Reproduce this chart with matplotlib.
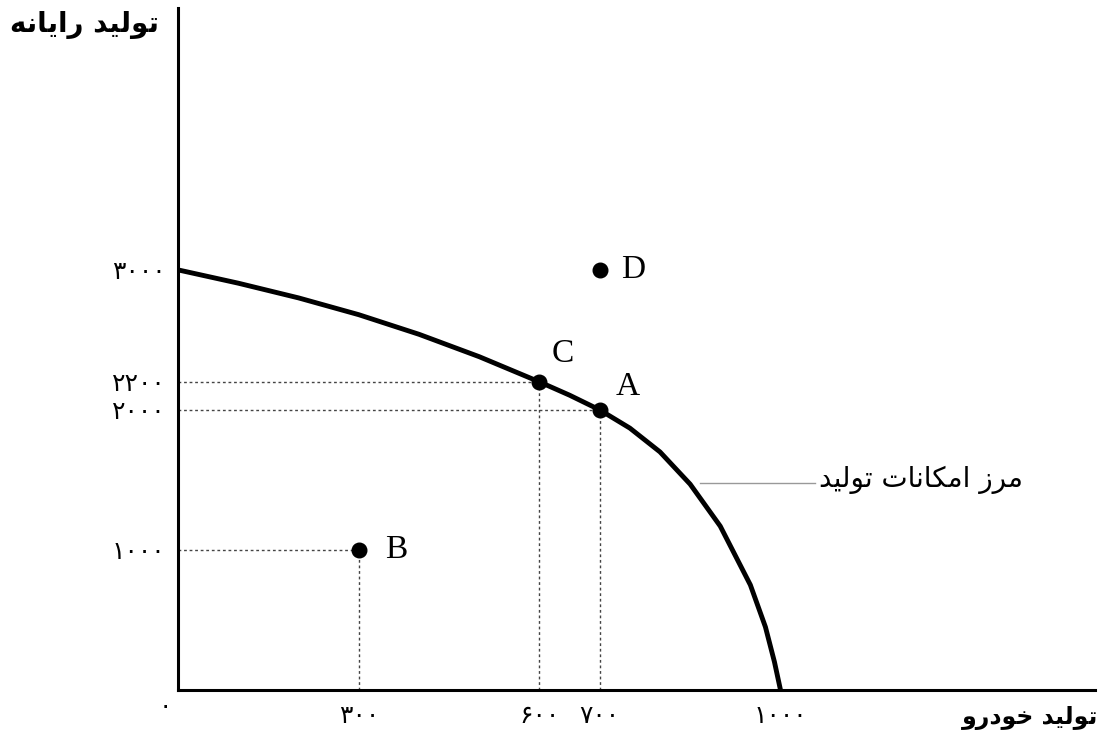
import matplotlib
matplotlib.use('Agg')
import matplotlib.pyplot as plt

# production possibility frontier (cars vs computers)
curve_x = [0, 100, 200, 300, 400, 500, 600, 650, 700, 750, 800, 850, 900,
           950, 975, 990, 1000]
curve_y = [3000, 2905, 2800, 2680, 2540, 2380, 2200, 2105, 2000, 1870, 1700,
           1470, 1170, 750, 450, 200, 0]

point_names = ['A', 'B', 'C', 'D']
point_x = [700, 300, 600, 700]
point_y = [2000, 1000, 2200, 3000]

xtick_vals = [300, 600, 700, 1000]
xtick_labels = ['۳۰۰', '۶۰۰', '۷۰۰', '۱۰۰۰']
ytick_vals = [1000, 2000, 2200, 3000]
ytick_labels = ['۱۰۰۰', '۲۰۰۰', '۲۲۰۰', '۳۰۰۰']

ylabel_txt = 'تولید رایانه'
xlabel_txt = 'تولید خودرو'
curve_txt = 'مرز امکانات تولید'


# matplotlib has no arabic shaping, so pick presentation forms by hand
# letter: (isolated, final, initial, medial)
forms = {
    'ت': ('\uFE95', '\uFE96', '\uFE97', '\uFE98'),
    'و': ('\uFEED', '\uFEEE', None, None),
    'ل': ('\uFEDD', '\uFEDE', '\uFEDF', '\uFEE0'),
    'ی': ('\uFBFC', '\uFBFD', '\uFEF3', '\uFEF4'),
    'د': ('\uFEA9', '\uFEAA', None, None),
    'ر': ('\uFEAD', '\uFEAE', None, None),
    'ز': ('\uFEAF', '\uFEB0', None, None),
    'ا': ('\uFE8D', '\uFE8E', None, None),
    'ن': ('\uFEE5', '\uFEE6', '\uFEE7', '\uFEE8'),
    'ه': ('\uFEE9', '\uFEEA', '\uFEEB', '\uFEEC'),
    'خ': ('\uFEA5', '\uFEA6', '\uFEA7', '\uFEA8'),
    'م': ('\uFEE1', '\uFEE2', '\uFEE3', '\uFEE4'),
    'ک': ('\uFB8E', '\uFB8F', '\uFB90', '\uFB91'),
}


def shape(s):
    out = []
    for i, ch in enumerate(s):
        if ch not in forms:
            out.append(ch)
            continue
        prev = s[i - 1] if i > 0 else ' '
        nxt = s[i + 1] if i < len(s) - 1 else ' '
        join_prev = prev in forms and forms[prev][2] is not None
        join_next = nxt in forms and forms[ch][2] is not None
        iso, fin, ini, med = forms[ch]
        if join_prev and join_next:
            out.append(med)
        elif join_next:
            out.append(ini)
        elif join_prev:
            out.append(fin)
        else:
            out.append(iso)
    return ''.join(out)[::-1]


fig = plt.figure(figsize=(11.1, 7.42), dpi=100)
ax = fig.add_axes([178 / 1110, 52 / 742, 917 / 1110, 682 / 742])

ax.set_xlim(0, 1522)
ax.set_ylim(0, 4870)

for s in ['top', 'right']:
    ax.spines[s].set_visible(False)
ax.spines['left'].set_linewidth(2.2)
ax.spines['bottom'].set_linewidth(2.2)

# dotted guides to the axes
for name, x, y in zip(point_names, point_x, point_y):
    if name == 'D':
        continue
    ax.plot([0, x], [y, y], color='#444444', lw=1, ls=(0, (2, 2)))
    ax.plot([x, x], [0, y], color='#444444', lw=1, ls=(0, (2, 2)))

ax.plot(curve_x, curve_y, color='black', lw=3.5, solid_capstyle='butt',
        solid_joinstyle='round', zorder=3)
ax.plot(point_x, point_y, 'o', color='black', ms=10.5, zorder=4)

label_off = {'A': (20, 17), 'B': (27, 0), 'C': (17, 20), 'D': (24, 0)}
for name, x, y in zip(point_names, point_x, point_y):
    dx, dy = label_off[name]
    ax.annotate(name, (x, y), xytext=(dx, dy), textcoords='offset points',
                fontsize=24, family='Liberation Serif', va='center', ha='center')

arabic = ['DejaVu Sans']
ax.set_xticks(xtick_vals)
ax.set_xticklabels(xtick_labels, family=arabic, fontsize=18)
ax.set_yticks(ytick_vals)
ax.set_yticklabels(ytick_labels, family=arabic, fontsize=18)
ax.tick_params(axis='both', length=0)
ax.tick_params(axis='x', pad=10)
ax.tick_params(axis='y', pad=9)
ax.annotate('۰', (0, 0), xytext=(-9, -12), textcoords='offset points',
            family=arabic, fontsize=18, ha='center', va='center')

fig.text(10 / 1110, 1 - 25 / 742, shape(ylabel_txt), family=arabic,
         fontsize=20, fontweight='bold', ha='left', va='center')
fig.text(1098 / 1110, 1 - 718 / 742, shape(xlabel_txt), family=arabic,
         fontsize=17, fontweight='bold', ha='right', va='center')

# frontier label with its leader line
ax.plot([866, 1057], [1479, 1479], color='#999999', lw=1)
ax.text(1064, 1450, shape(curve_txt), family=arabic, fontsize=20,
        ha='left', va='baseline')

fig.savefig('out.png', dpi=100, facecolor='white')
